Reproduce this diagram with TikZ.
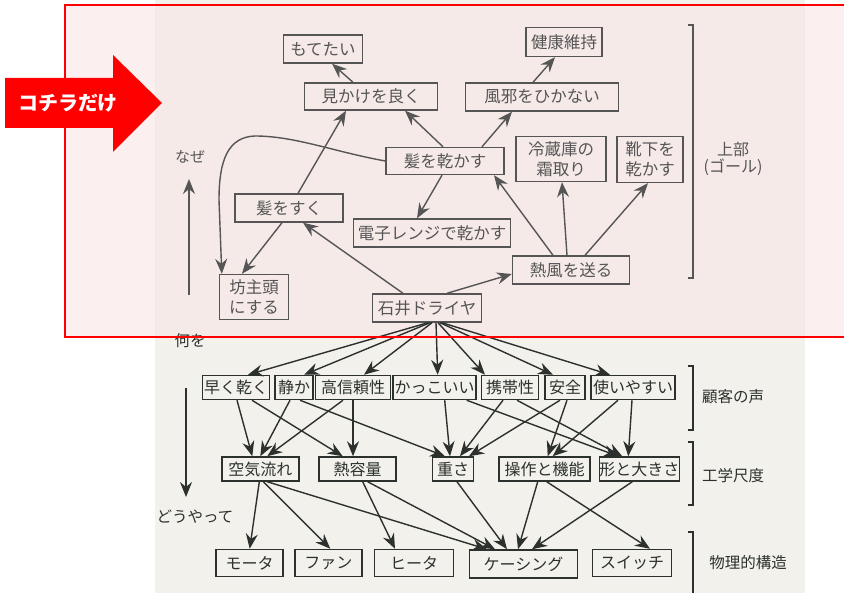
\documentclass[tikz,border=0pt]{standalone}
\usepackage{fontspec}
\setmainfont{Noto Sans CJK JP}
\usetikzlibrary{arrows.meta}
\definecolor{topc}{HTML}{555555}
\definecolor{botc}{HTML}{2C312E}
\definecolor{pagec}{HTML}{F2F1EC}
\definecolor{pinkl}{HTML}{FCEFEF}
\definecolor{pinkp}{HTML}{F6EAE9}
\tikzset{
  tb/.style={draw=topc, line width=1.4pt, text=topc, font=\fontsize{16.5}{20}\selectfont, inner sep=0pt, align=center},
  bb/.style={draw=botc, line width=1.5pt, text=botc, font=\fontsize{16}{18}\selectfont, inner sep=0pt, align=center},
  ta/.style={draw=topc, line width=1.4pt, -{Stealth[length=15pt,width=12pt,inset=5pt]}},
  ba/.style={draw=botc, line width=1.4pt, -{Stealth[length=15pt,width=12pt,inset=5pt]}},
  tl/.style={text=topc, font=\fontsize{15}{19}\selectfont, inner sep=0pt, align=center},
  bl/.style={text=botc, font=\fontsize{15.5}{18}\selectfont, inner sep=0pt, align=center},
  brk/.style={line width=1.4pt},
}
\begin{document}
\begin{tikzpicture}[x=1pt,y=-1pt]
\useasboundingbox (0,0) rectangle (844,593);
\fill[white] (0,0) rectangle (844,593);
\fill[pagec] (155,0) rectangle (805,593);
\fill[pinkl] (65,5) rectangle (845,337);
\fill[pinkp] (155,5) rectangle (805,337);

% ---------- upper part ----------
\node[tb, minimum width=79pt, minimum height=28pt] (moteta) at (323,49) {もてたい};
\node[tb, minimum width=76pt, minimum height=29pt] (kenko) at (564,42) {健康維持};
\node[tb, minimum width=133pt, minimum height=27pt] (mikake) at (371,96.5) {見かけを良く};
\node[tb, minimum width=153pt, minimum height=28pt] (kaze) at (542,97) {風邪をひかない};
\node[tb, minimum width=118pt, minimum height=27pt] (kamikawa) at (445,161) {髪を乾かす};
\node[tb, minimum width=90pt, minimum height=45pt] (reizo) at (561,159) {冷蔵庫の\\霜取り};
\node[tb, minimum width=66pt, minimum height=46pt] (kutsu) at (650,159.5) {靴下を\\乾かす};
\node[tb, minimum width=108pt, minimum height=28pt] (kamisuku) at (289,208) {髪をすく};
\node[tb, minimum width=157pt, minimum height=28pt] (denshi) at (432,233) {電子レンジで乾かす};
\node[tb, minimum width=69pt, minimum height=45pt] (bouzu) at (254,297) {坊主頭\\にする};
\node[tb, minimum width=117pt, minimum height=28pt] (neppu) at (571,270) {熱風を送る};
\node[tb, minimum width=109pt, minimum height=28pt] (ishii) at (427,308) {石井ドライヤ};

\draw[ta] ([xshift=-18pt]mikake.north) -- ([xshift=9pt]moteta.south);
\draw[ta] ([xshift=-9pt]kaze.north) -- ([xshift=-9pt]kenko.south);
\draw[ta] ([xshift=-2pt]kamikawa.north) -- ([xshift=34pt]mikake.south);
\draw[ta] ([xshift=37pt]kamikawa.north) -- ([xshift=-30pt]kaze.south);
\draw[ta] ([xshift=9pt]kamisuku.north) -- ([xshift=-25pt]mikake.south);
\draw[ta] ([xshift=-3pt]kamikawa.south) -- ([xshift=-15pt]denshi.north);
\draw[ta] ([xshift=-7pt]kamisuku.south) -- ([xshift=-12pt]bouzu.north);
\draw[ta] ([xshift=-24pt]ishii.north) -- ([xshift=14pt]kamisuku.south);
\draw[ta] ([xshift=20pt]ishii.north) -- ([yshift=-4pt]neppu.west);
\draw[ta] ([xshift=-18pt]neppu.north) -- ([xshift=49pt]kamikawa.south);
\draw[ta] ([xshift=-4pt]neppu.north) -- ([xshift=1pt]reizo.south);
\draw[ta] ([xshift=14pt]neppu.north) -- ([xshift=-2pt]kutsu.south);
\draw[ta] (kamikawa.west) .. controls (335,152) and (295,136) .. (255,136)
   .. controls (228,137) and (219,160) .. (219,200) -- ([xshift=3pt]bouzu.north west);

\node[tl] (naze) at (190,157) {なぜ};
\coordinate (nazeA) at (189,295);
\coordinate (nazeB) at (189,179);
\draw[ta] (nazeA) -- (nazeB);
\node[tl, font=\fontsize{16}{17}\selectfont] (jobu) at (733,159) {上部\\(ゴール)};
\coordinate (b1a) at (688,25); \coordinate (b1b) at (693,25);
\coordinate (b1c) at (693,278); \coordinate (b1d) at (688,278);
\draw[topc, brk] (b1a) -- (b1b) -- (b1c) -- (b1d);

% ---------- lower part ----------
\node[bb, minimum width=67pt, minimum height=24pt] (hayaku) at (236,387.5) {早く乾く};
\node[bb, minimum width=38pt, minimum height=24pt] (shizuka) at (294,387.5) {静か};
\node[bb, minimum width=75pt, minimum height=24pt] (shinrai) at (353,387.5) {高信頼性};
\node[bb, minimum width=83pt, minimum height=24pt] (kakko) at (434.7,387.5) {かっこいい};
\node[bb, minimum width=57pt, minimum height=24pt] (keitai) at (510,387.5) {携帯性};
\node[bb, minimum width=40pt, minimum height=24pt] (anzen) at (565,387.5) {安全};
\node[bb, minimum width=84pt, minimum height=24pt] (tsukai) at (633,387.5) {使いやすい};

\node[bb, minimum width=77pt, minimum height=24pt] (kuki) at (260.3,469) {空気流れ};
\node[bb, minimum width=77pt, minimum height=24pt] (netsuyo) at (357.7,469) {熱容量};
\node[bb, minimum width=41pt, minimum height=24pt] (omosa) at (453,469) {重さ};
\node[bb, minimum width=91pt, minimum height=24pt] (sousa) at (544.7,469) {操作と機能};
\node[bb, minimum width=80pt, minimum height=24pt] (katachi) at (639.3,469) {形と大きさ};

\node[bb, minimum width=67pt, minimum height=27pt] (motor) at (249.7,563) {モータ};
\node[bb, minimum width=67pt, minimum height=27pt] (fan) at (328.3,563) {ファン};
\node[bb, minimum width=79pt, minimum height=27pt] (heater) at (414,563) {ヒータ};
\node[bb, minimum width=108pt, minimum height=28pt] (casing) at (523.5,564) {ケーシング};
\node[bb, minimum width=79pt, minimum height=27pt] (switch) at (632,563) {スイッチ};

% ishii -> voice of customer
\draw[ba] ([xshift=1pt]ishii.south) -- ([xshift=12pt]hayaku.north);
\draw[ba] ([xshift=3pt]ishii.south) -- ([xshift=10pt]shizuka.north);
\draw[ba] ([xshift=5pt]ishii.south) -- ([xshift=11pt]shinrai.north);
\draw[ba] ([xshift=9pt]ishii.south) -- ([xshift=3pt]kakko.north);
\draw[ba] ([xshift=11pt]ishii.south) -- ([xshift=-25pt]keitai.north);
\draw[ba] ([xshift=13pt]ishii.south) -- ([xshift=-12pt]anzen.north);
\draw[ba] ([xshift=15pt]ishii.south) -- ([xshift=-23pt]tsukai.north);

% voice -> engineering
\draw[ba] ([xshift=1pt]hayaku.south) -- ([xshift=-8pt]kuki.north);
\draw[ba] ([xshift=16pt]hayaku.south) -- ([xshift=-15pt]netsuyo.north);
\draw[ba] ([xshift=-4pt]shizuka.south) -- (kuki.north);
\draw[ba] ([xshift=6pt]shizuka.south) -- ([xshift=-8pt]omosa.north);
\draw[ba] ([xshift=-10pt]shinrai.south) -- ([xshift=7pt]kuki.north);
\draw[ba] (shinrai.south) -- ([xshift=-4.7pt]netsuyo.north);
\draw[ba] ([xshift=10pt]kakko.south) -- ([xshift=-3pt]omosa.north);
\draw[ba] ([xshift=32pt]kakko.south) -- ([xshift=-21pt]katachi.north);
\draw[ba] ([xshift=-7pt]keitai.south) -- ([xshift=7pt]omosa.north);
\draw[ba] ([xshift=7pt]keitai.south) -- ([xshift=-17pt]katachi.north);
\draw[ba] ([xshift=-5pt]anzen.south) -- ([xshift=16pt]omosa.north);
\draw[ba] ([xshift=2pt]anzen.south) -- ([xshift=3pt]sousa.north);
\draw[ba] ([xshift=-15pt]tsukai.south) -- ([xshift=8pt]sousa.north);
\draw[ba] ([xshift=-1pt]tsukai.south) -- ([xshift=-11pt]katachi.north);

% engineering -> physical
\draw[ba] ([xshift=-1pt]kuki.south) -- (motor.north);
\draw[ba] ([xshift=3pt]kuki.south) -- ([xshift=2pt]fan.north);
\draw[ba] ([xshift=7pt]kuki.south) -- ([xshift=-36.5pt]casing.north);
\draw[ba] ([xshift=5pt]netsuyo.south) -- ([xshift=-19pt]heater.north);
\draw[ba] ([xshift=10pt]netsuyo.south) -- ([xshift=-28.5pt]casing.north);
\draw[ba] ([xshift=4pt]omosa.south) -- ([xshift=-16.5pt]casing.north);
\draw[ba] ([xshift=-7pt]sousa.south) -- ([xshift=-5.5pt]casing.north);
\draw[ba] ([xshift=2pt]sousa.south) -- ([xshift=18pt]switch.north);
\draw[ba] ([xshift=-7pt]katachi.south) -- ([xshift=8.5pt]casing.north);

% side labels
\node[bl] (nanio) at (190,341) {何を};
\coordinate (downA) at (186,388);
\coordinate (downB) at (186,497);
\draw[ba] (downA) -- (downB);
\node[bl] (douyatte) at (195,517) {どうやって};

\node[bl] (kokyaku) at (733,397) {顧客の声};
\node[bl] (kogaku) at (733,476) {工学尺度};
\node[bl] (butsuri) at (748,563) {物理的構造};
\coordinate (b2a) at (688,366); \coordinate (b2b) at (693,366);
\coordinate (b2c) at (693,430); \coordinate (b2d) at (688,430);
\draw[botc, brk] (b2a) -- (b2b) -- (b2c) -- (b2d);
\coordinate (b3a) at (688,442); \coordinate (b3b) at (693,442);
\coordinate (b3c) at (693,505); \coordinate (b3d) at (688,505);
\draw[botc, brk] (b3a) -- (b3b) -- (b3c) -- (b3d);
\coordinate (b4a) at (688,532); \coordinate (b4b) at (693,532);
\coordinate (b4c) at (693,600);
\draw[botc, brk] (b4a) -- (b4b) -- (b4c);

% red frame and arrow
\draw[red, line width=2.4pt] (65,5) rectangle (845,337);
\fill[red] (5,78) -- (113,78) -- (113,55) -- (162,103) -- (113,152) -- (113,128) -- (5,128) -- cycle;
\node[text=white, font=\bfseries\fontsize{20}{20}\selectfont, inner sep=0pt] (kochira) at (68,103) {コチラだけ};
\end{tikzpicture}
\end{document}
